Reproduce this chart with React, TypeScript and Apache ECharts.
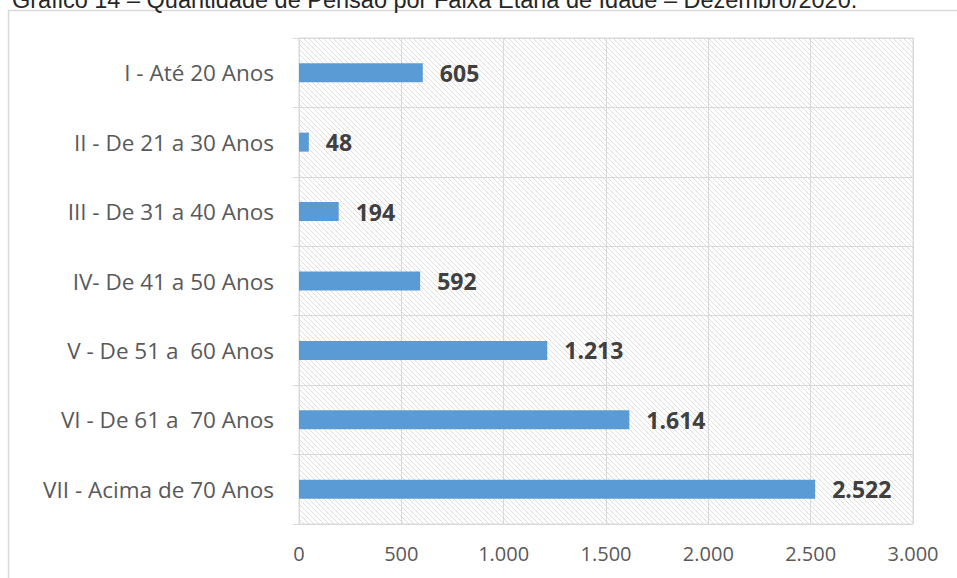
import React, { useEffect, useRef } from "react";
import * as echarts from "echarts";

const categories = [
  "I - Até 20 Anos",
  "II - De 21 a 30 Anos",
  "III - De 31 a 40 Anos",
  "IV- De 41 a 50 Anos",
  "V - De 51 a  60 Anos",
  "VI - De 61 a  70 Anos",
  "VII - Acima de 70 Anos",
];
const values = [605, 48, 194, 592, 1213, 1614, 2522];
const titleText = "Gráfico 14 – Quantidade de Pensão por Faixa Etária de Idade – Dezembro/2020.";

const fmt = (v: number) => String(v).replace(/\B(?=(\d{3})+(?!\d))/g, ".");

const hatchSvg =
  "data:image/svg+xml;utf8," +
  encodeURIComponent(
    '<svg xmlns="http://www.w3.org/2000/svg" width="5" height="5">' +
      '<rect width="5" height="5" fill="#ffffff"/>' +
      '<path d="M-1,-1 L6,6 M-1,4 L1,6 M4,-1 L6,1" stroke="#dedede" stroke-width="1"/>' +
      "</svg>"
  );

export default function App() {
  const ref = useRef<HTMLDivElement>(null);
  useEffect(() => {
    if (!ref.current) return;
    const chart = echarts.init(ref.current, null, { renderer: "svg" });
    const font = "'Open Sans', 'Liberation Sans', sans-serif";
    chart.setOption({
      animation: false,
      backgroundColor: "#ffffff",
      graphic: [
        {
          type: "rect",
          shape: { x: 8.5, y: 10.5, width: 1000, height: 1000 },
          style: { fill: "none", stroke: "#d9d9d9", lineWidth: 1.5 },
          z: -1,
        },
        {
          type: "text",
          x: 12,
          y: 11.5,
          style: {
            text: titleText,
            fill: "#262626",
            font: `23.5px 'Liberation Sans', Arial, sans-serif`,
            verticalAlign: "bottom",
          },
        },
      ],
      grid: {
        left: 299,
        right: 44,
        top: 38,
        bottom: 54,
        show: true,
        borderColor: "#d9d9d9",
        borderWidth: 1,
        backgroundColor: {
          image: hatchSvg,
          repeat: "repeat",
          imageWidth: 5,
          imageHeight: 5,
        },
      },
      xAxis: {
        type: "value",
        min: 0,
        max: 3000,
        interval: 500,
        axisLine: { show: false },
        axisTick: { show: false },
        axisLabel: {
          formatter: (v: number) => fmt(v),
          color: "#595959",
          fontFamily: font,
          fontSize: 20,
          margin: 19,
        },
        splitLine: { lineStyle: { color: "#d9d9d9", width: 1 } },
      },
      yAxis: {
        type: "category",
        data: categories,
        inverse: true,
        axisLine: { show: true, lineStyle: { color: "#d9d9d9" } },
        axisTick: { show: true, length: 6, lineStyle: { color: "#d9d9d9" } },
        splitLine: { show: true, lineStyle: { color: "#d9d9d9", width: 1 } },
        axisLabel: {
          color: "#595959",
          fontFamily: font,
          fontSize: 22.5,
          margin: 25,
        },
      },
      series: [
        {
          type: "bar",
          data: values,
          barWidth: 19,
          itemStyle: { color: "#5B9BD5" },
          label: {
            show: true,
            position: "right",
            distance: 17,
            formatter: (p: any) => fmt(p.value),
            color: "#404040",
            fontFamily: font,
            fontWeight: "bold",
            fontSize: 23,
          },
        },
      ],
    });
    return () => chart.dispose();
  }, []);
  return <div ref={ref} style={{ width: 957, height: 578, position: "absolute", left: 0, top: 0 }} />;
}
